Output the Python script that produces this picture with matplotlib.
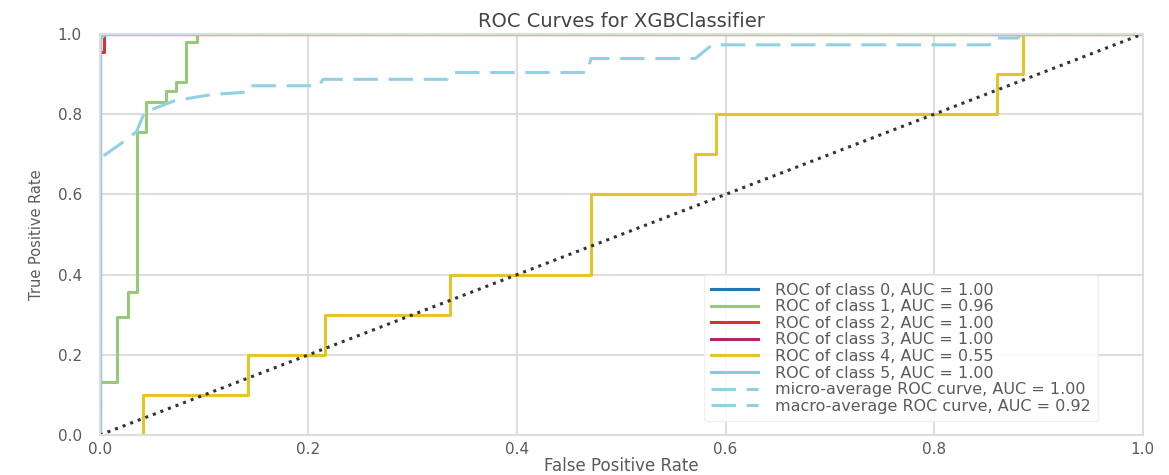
"""ROC curves for an XGBClassifier, yellowbrick-like look."""
import matplotlib
matplotlib.use("Agg")
import matplotlib.pyplot as plt

# class 0, 3, 5 are perfect: straight up the left edge
perfect_fpr = [0.0, 0.0, 1.0]
perfect_tpr = [0.0, 1.0, 1.0]

class1_fpr = [0.0, 0.0, 0.016, 0.016, 0.027, 0.027, 0.036, 0.036, 0.044, 0.044,
              0.063, 0.063, 0.073, 0.073, 0.083, 0.083, 0.093, 0.093, 1.0]
class1_tpr = [0.0, 0.133, 0.133, 0.295, 0.295, 0.357, 0.357, 0.756, 0.756, 0.83,
              0.83, 0.857, 0.857, 0.88, 0.88, 0.98, 0.98, 1.0, 1.0]

class2_fpr = [0.0, 0.0, 0.004, 0.004, 1.0]
class2_tpr = [0.0, 0.955, 0.955, 1.0, 1.0]

class4_fpr = [0.0, 0.041, 0.041, 0.142, 0.142, 0.216, 0.216, 0.336, 0.336, 0.471, 0.471,
              0.571, 0.571, 0.591, 0.591, 0.86, 0.86, 0.885, 0.885, 1.0]
class4_tpr = [0.0, 0.0, 0.1, 0.1, 0.2, 0.2, 0.3, 0.3, 0.4, 0.4, 0.6,
              0.6, 0.7, 0.7, 0.8, 0.8, 0.9, 0.9, 1.0, 1.0]

micro_fpr = [0.0, 0.0, 0.005, 1.0]
micro_tpr = [0.0, 0.985, 1.0, 1.0]

macro_fpr = [0.0, 0.0, 0.022, 0.035, 0.043, 0.053, 0.072, 0.107, 0.14, 0.143, 0.21,
             0.214, 0.333, 0.337, 0.467, 0.471, 0.571, 0.587, 0.853, 0.857, 0.88, 0.884, 1.0]
macro_tpr = [0.0, 0.69, 0.73, 0.756, 0.806, 0.815, 0.834, 0.849, 0.855, 0.871, 0.871,
             0.887, 0.887, 0.904, 0.904, 0.939, 0.939, 0.973, 0.973, 0.99, 0.99, 1.0, 1.0]

labels = [
    "ROC of class 0, AUC = 1.00",
    "ROC of class 1, AUC = 0.96",
    "ROC of class 2, AUC = 1.00",
    "ROC of class 3, AUC = 1.00",
    "ROC of class 4, AUC = 0.55",
    "ROC of class 5, AUC = 1.00",
    "micro-average ROC curve, AUC = 1.00",
    "macro-average ROC curve, AUC = 0.92",
]
colors = ["#1f78b4", "#98c87a", "#d9322e", "#b0256e", "#e3c42a", "#8cc8e0"]
avg_color = "#92d0e2"

plt.rcParams["font.family"] = ["DejaVu Sans"]
text_color = "#5a5a5a"

fig = plt.figure(figsize=(11.69, 4.75), dpi=100)
ax = fig.add_axes([0.0855, 0.0842, 0.892, 0.8442])

curves = [(perfect_fpr, perfect_tpr), (class1_fpr, class1_tpr), (class2_fpr, class2_tpr),
          (perfect_fpr, perfect_tpr), (class4_fpr, class4_tpr), (perfect_fpr, perfect_tpr)]
for (fpr, tpr), color, label in zip(curves, colors, labels[:6]):
    ax.plot(fpr, tpr, color=color, lw=2.2, label=label)

ax.plot(micro_fpr, micro_tpr, color=avg_color, lw=2.2, ls=(0, (8, 3.5)), label=labels[6])
ax.plot(macro_fpr, macro_tpr, color=avg_color, lw=2.2, ls=(0, (8, 3.5)), label=labels[7])
ax.plot([0, 1], [0, 1], color="#333333", lw=2.2, ls=":")

ax.set_xlim(0, 1)
ax.set_ylim(0, 1)
ax.set_xticks([0.0, 0.2, 0.4, 0.6, 0.8, 1.0])
ax.set_yticks([0.0, 0.2, 0.4, 0.6, 0.8, 1.0])
ax.grid(True, color="#dddddd", lw=1.5)
ax.set_axisbelow(True)
for spine in ax.spines.values():
    spine.set_color("#dddddd")
    spine.set_linewidth(1.5)
ax.tick_params(length=0, labelsize=11, labelcolor=text_color)
ax.tick_params(axis="x", pad=5)
ax.tick_params(axis="y", pad=13)

ax.set_title("ROC Curves for XGBClassifier", fontsize=14, color="#444444", pad=5)
ax.set_xlabel("False Positive Rate", fontsize=12, color=text_color, labelpad=0)
ax.set_ylabel("True Positive Rate", fontsize=10.5, color=text_color, labelpad=10)

leg = ax.legend(loc="lower right", bbox_to_anchor=(0.965, 0.015), fontsize=11.5,
                labelspacing=0.1, handlelength=2.9, handletextpad=1.1,
                frameon=True, framealpha=0.85, edgecolor="#eeeeee", borderpad=0.45)
for text in leg.get_texts():
    text.set_color(text_color)

fig.savefig("out.png", dpi=100)
